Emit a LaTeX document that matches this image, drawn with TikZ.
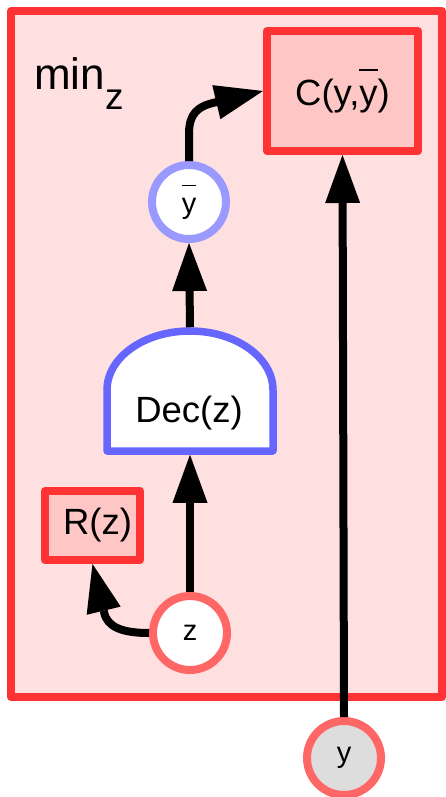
\documentclass[tikz,border=0pt]{standalone}
\usepackage{fontspec}
\setmainfont{Liberation Sans}
\usetikzlibrary{arrows.meta}
\definecolor{framered}{HTML}{FF3333}
\definecolor{framefill}{HTML}{FFE0E0}
\definecolor{boxfill}{HTML}{FFC6C6}
\definecolor{varred}{HTML}{FF6666}
\definecolor{ybarblue}{HTML}{9999FF}
\definecolor{decblue}{HTML}{6666FF}
\definecolor{obsgray}{HTML}{DDDDDD}
\newcommand{\yb}{\leavevmode\rlap{\raisebox{0.93em}{\rule{0.5em}{0.05em}}}y}
\begin{document}
\begin{tikzpicture}[x=1pt,y=-1pt,
  costbox/.style={draw=framered, fill=boxfill, line width=8pt, line join=round, inner sep=0pt, font=\fontsize{36.5}{40}\selectfont},
  varnode/.style={circle, line width=8pt, minimum size=74pt, inner sep=0pt, font=\fontsize{29}{32}\selectfont},
  flow/.style={line width=8pt, -{Triangle[length=48pt,width=35pt,line width=0pt]}},
]
\useasboundingbox (0,0) rectangle (446,797);
% outer frame
\draw[framered, fill=framefill, line width=8pt, line join=round] (11,11) rectangle (442,697);
\node[anchor=base west, inner sep=0pt, font=\fontsize{44}{46}\selectfont] (minlabel) at (34,90) {min\raisebox{-20pt}{\fontsize{37}{40}\selectfont z}};
% cost boxes
\node[costbox, minimum width=151pt, minimum height=120pt] (C) at (342.5,91) {C(y,\yb)};
\node[costbox, minimum width=95pt, minimum height=69pt] (R) at (92.5,525.5) {\hspace*{10pt}R(z)};
% decoder
\draw[decblue, fill=white, line width=7.5pt, line join=round] (107,451) -- (107,390) arc[start angle=180, end angle=360, x radius=83, y radius=59] -- (273,451) -- cycle;
\node[minimum width=166pt, minimum height=120pt, inner sep=0pt, outer sep=3.75pt] (dec) at (190,391) {};
\node[font=\fontsize{36.5}{40}\selectfont, inner sep=0pt] (declabel) at (189,413) {Dec(z)};
% variables
\node[varnode, draw=ybarblue, fill=white] (yb) at (189,202) {\yb};
\node[varnode, draw=varred, fill=white] (z) at (190,633) {z};
\node[varnode, draw=varred, fill=obsgray] (y) at (344,758) {y};
% connectors
\draw[flow] (z.north) -- (dec.south);
\draw[flow] (dec.north) -- (yb.south);
\draw[flow] (y.north) -- (C.south);
\draw[flow] (yb.north) -- ++(0,-27) .. controls +(0,-20) and (197,106) .. (217,102) -- (C.west);
\draw[flow] (z.west) .. controls (122,633) and (107,627) .. (104,612) -- (R.south);
\end{tikzpicture}
\end{document}
